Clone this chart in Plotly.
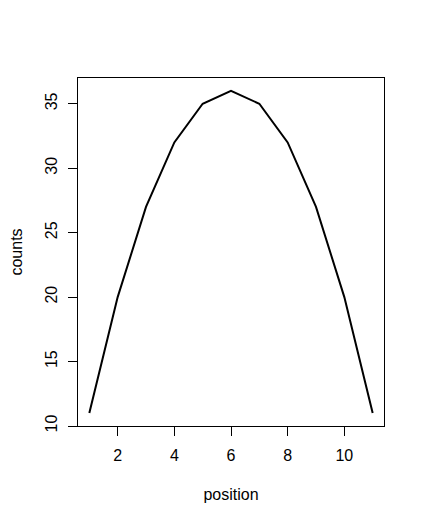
import plotly.graph_objects as go

position = [1, 2, 3, 4, 5, 6, 7, 8, 9, 10, 11]
counts = [11, 20, 27, 32, 35, 36, 35, 32, 27, 20, 11]
x_ticks = [2, 4, 6, 8, 10]
y_ticks = [10, 15, 20, 25, 30, 35]

fig = go.Figure()
fig.add_trace(go.Scatter(x=position, y=counts, mode="lines",
                         line=dict(color="black", width=2), showlegend=False))

font = dict(family="Liberation Sans, Arial, sans-serif", size=16, color="black")
fig.update_layout(
    width=424, height=524,
    margin=dict(l=70, r=48, t=70, b=106),
    paper_bgcolor="white", plot_bgcolor="white",
    font=font,
)
fig.update_xaxes(range=[0.6, 11.4], tickvals=x_ticks, ticks="outside", ticklen=9,
                 tickwidth=1, tickcolor="black", showline=True, linecolor="black",
                 linewidth=1, mirror=True, showgrid=False, zeroline=False,
                 ticklabelstandoff=6, automargin=False,
                 title=dict(text="position", font=font, standoff=25))
fig.update_yaxes(range=[10, 37], tickvals=y_ticks, ticks="outside", ticklen=9,
                 tickwidth=1, tickcolor="black", showline=True, linecolor="black",
                 linewidth=1, mirror=True, showgrid=False, zeroline=False,
                 tickangle=-90, ticklabelstandoff=5, automargin=False,
                 title=dict(text="counts", font=font, standoff=18))

fig.write_html("out.html")
